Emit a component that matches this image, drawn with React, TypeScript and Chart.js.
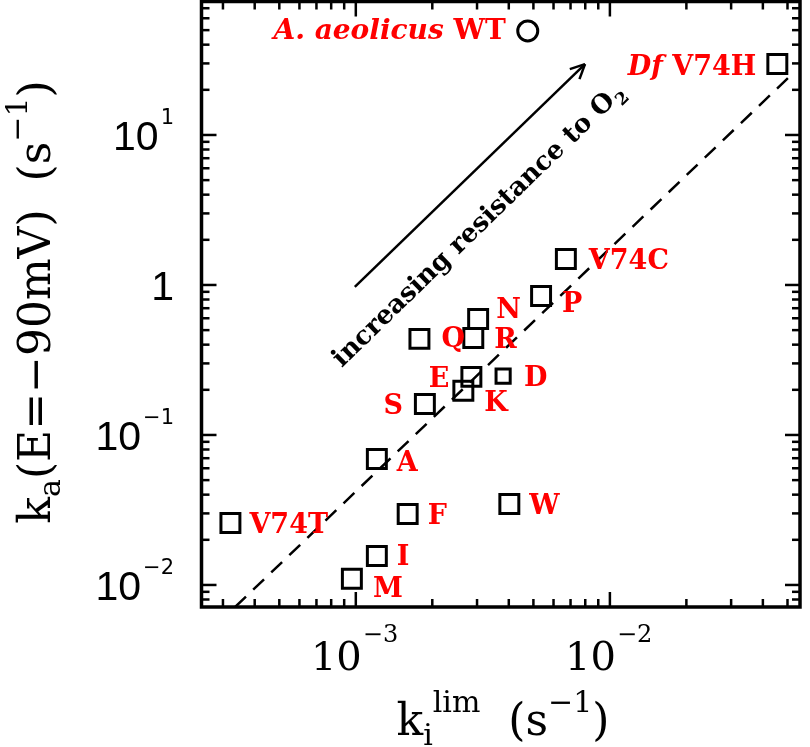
import React, { useEffect, useRef } from "react";
import { Chart, registerables } from "chart.js";

Chart.register(...registerables);

// ---------------- data ----------------
const mutantLabels = ["V74C", "P", "N", "R", "Q", "E", "D", "K", "S", "A", "V74T", "F", "W", "I", "M"];
const mutantKi = [6.71e-3, 5.36e-3, 3.03e-3, 2.9e-3, 1.78e-3, 2.85e-3, 3.8e-3, 2.65e-3, 1.87e-3, 1.21e-3, 3.21e-4, 1.6e-3, 4.02e-3, 1.21e-3, 0.965e-3];
const mutantKa = [1.49, 0.845, 0.593, 0.443, 0.437, 0.244, 0.247, 0.197, 0.161, 0.0692, 0.0259, 0.0297, 0.0347, 0.0156, 0.011];

const dfPrefix = "Df";
const dfLabel = "V74H";
const dfKi = [0.0456];
const dfKa = [29.7];

const wtSpecies = "A. aeolicus";
const wtLabel = "WT";
const wtKi = [4.75e-3];
const wtKa = [49.4];

const trendKi = [3.35e-4, 0.0508];
const trendKa = [7.13e-3, 24.4];

const xRange = [2.47e-4, 0.056];
const yRange = [7.13e-3, 77.6];

const xTickValues = [1e-3, 1e-2];
const xTickBases = ["10", "10"];
const xTickExps = ["\u22123", "\u22122"];

const yTickValues = [1e-2, 1e-1, 1, 10];
const yTickBases = ["10", "10", "1", "10"];
const yTickExps = ["\u22122", "\u22121", "", "1"];

const arrowKi = [0.991e-3, 7.98e-3];
const arrowKa = [0.97, 29.7];
const arrowText = "increasing resistance to O";
const arrowTextSub = "2";
const arrowTextKi = 0.881e-3;
const arrowTextKa = 0.28;

// ---------------- styles ----------------
const RED = "#ff0000";
const LABEL_FONT = 'bold 27px "DejaVu Serif"';
const labelOffsets: Record<string, [number, number, "left" | "right"]> = {
  V74C: [23, 0, "left"],
  P: [21, 6, "left"],
  N: [18, -11, "left"],
  R: [21, 0, "left"],
  Q: [22, -2, "left"],
  E: [-22, 0, "right"],
  D: [21, 0, "left"],
  K: [21, 10, "left"],
  S: [-22, 0, "right"],
  A: [20, 2, "left"],
  V74T: [19, 0, "left"],
  F: [20, 0, "left"],
  W: [20, 0, "left"],
  I: [20, -1, "left"],
  M: [21, 8, "left"],
};

type Run = { text: string; font: string; dy: number };

function runsWidth(ctx: CanvasRenderingContext2D, runs: Run[]) {
  let w = 0;
  for (const r of runs) {
    ctx.font = r.font;
    w += ctx.measureText(r.text).width;
  }
  return w;
}

function drawRuns(ctx: CanvasRenderingContext2D, runs: Run[], x: number, y: number) {
  let cx = x;
  ctx.textAlign = "left";
  ctx.textBaseline = "alphabetic";
  for (const r of runs) {
    ctx.font = r.font;
    ctx.fillText(r.text, cx, y + r.dy);
    cx += ctx.measureText(r.text).width;
  }
}

const decorPlugin = {
  id: "decor",
  afterDatasetsDraw(chart: any) {
    const { ctx, chartArea: a, scales } = chart;
    const xs = scales.x;
    const ys = scales.y;
    ctx.save();

    const line = (x0: number, y0: number, x1: number, y1: number) => {
      ctx.beginPath();
      ctx.moveTo(x0, y0);
      ctx.lineTo(x1, y1);
      ctx.stroke();
    };

    // inward tick marks on all four sides
    ctx.strokeStyle = "#000";
    ctx.lineWidth = 2.5;
    for (let d = -5; d <= 3; d++) {
      for (let m = 1; m <= 9; m++) {
        const v = m * Math.pow(10, d);
        const len = m === 1 ? 15 : 8;
        if (v >= xs.min && v <= xs.max) {
          const px = xs.getPixelForValue(v);
          line(px, a.bottom, px, a.bottom - len);
          line(px, a.top, px, a.top + len);
        }
        if (v >= ys.min && v <= ys.max) {
          const py = ys.getPixelForValue(v);
          line(a.left, py, a.left + len, py);
          line(a.right, py, a.right - len, py);
        }
      }
    }

    // frame
    ctx.lineWidth = 3.5;
    ctx.strokeRect(a.left, a.top, a.right - a.left, a.bottom - a.top);

    // x tick labels
    ctx.fillStyle = "#000";
    xTickValues.forEach((v, i) => {
      const px = xs.getPixelForValue(v);
      ctx.font = '40px "DejaVu Serif"';
      ctx.textAlign = "right";
      ctx.textBaseline = "alphabetic";
      ctx.fillText(xTickBases[i], px + 6, 670);
      ctx.font = '24px "DejaVu Serif"';
      ctx.textAlign = "left";
      ctx.fillText(xTickExps[i], px + 7, 642);
    });

    // y tick labels
    yTickValues.forEach((v, i) => {
      const py = ys.getPixelForValue(v);
      const right = 174;
      ctx.font = '21px "DejaVu Sans"';
      const ew = yTickExps[i] ? ctx.measureText(yTickExps[i]).width + 2 : 0;
      ctx.textBaseline = "alphabetic";
      ctx.textAlign = "right";
      ctx.font = '41px "Liberation Sans"';
      ctx.fillText(yTickBases[i], right - ew, py + 15);
      if (yTickExps[i]) {
        ctx.font = '21px "DejaVu Sans"';
        ctx.fillText(yTickExps[i], right, py - 11);
      }
    });

    // x axis title
    const big = '44px "DejaVu Serif"';
    const small = '30px "DejaVu Serif"';
    const xRuns: Run[] = [
      { text: "k", font: big, dy: 0 },
      { text: "i", font: small, dy: 10 },
      { text: "lim", font: small, dy: -23 },
      { text: "  ", font: big, dy: 0 },
      { text: "(s", font: big, dy: 0 },
      { text: "\u22121", font: small, dy: -23 },
      { text: ")", font: big, dy: 0 },
    ];
    const xw = runsWidth(ctx, xRuns);
    drawRuns(ctx, xRuns, 503 - xw / 2, 735);

    // y axis title
    const yRuns: Run[] = [
      { text: "k", font: big, dy: 0 },
      { text: "a", font: small, dy: 10 },
      { text: "(E=\u221290mV)  (s", font: big, dy: 0 },
      { text: "\u22121", font: small, dy: -23 },
      { text: ")", font: big, dy: 0 },
    ];
    const yw = runsWidth(ctx, yRuns);
    ctx.save();
    ctx.translate(50, 302);
    ctx.rotate(-Math.PI / 2);
    drawRuns(ctx, yRuns, -yw / 2, 0);
    ctx.restore();

    // arrow
    const ax0 = xs.getPixelForValue(arrowKi[0]);
    const ay0 = ys.getPixelForValue(arrowKa[0]);
    const ax1 = xs.getPixelForValue(arrowKi[1]);
    const ay1 = ys.getPixelForValue(arrowKa[1]);
    const ang = Math.atan2(ay1 - ay0, ax1 - ax0);
    ctx.lineWidth = 2.5;
    line(ax0, ay0, ax1, ay1);
    const hl = 16;
    const sp = 0.45;
    line(ax1, ay1, ax1 - hl * Math.cos(ang - sp), ay1 - hl * Math.sin(ang - sp));
    line(ax1, ay1, ax1 - hl * Math.cos(ang + sp), ay1 - hl * Math.sin(ang + sp));

    // arrow text
    ctx.save();
    ctx.translate(xs.getPixelForValue(arrowTextKi), ys.getPixelForValue(arrowTextKa));
    ctx.rotate(ang);
    ctx.fillStyle = "#000";
    ctx.font = 'bold 26px "DejaVu Serif"';
    ctx.textAlign = "left";
    ctx.textBaseline = "alphabetic";
    ctx.fillText(arrowText, 0, 0);
    const tw = ctx.measureText(arrowText).width;
    ctx.font = 'bold 17px "DejaVu Serif"';
    ctx.fillText(arrowTextSub, tw + 1, 7);
    ctx.restore();

    // point labels
    ctx.fillStyle = RED;
    ctx.textBaseline = "alphabetic";
    ctx.font = LABEL_FONT;
    mutantLabels.forEach((lab, i) => {
      const px = xs.getPixelForValue(mutantKi[i]);
      const py = ys.getPixelForValue(mutantKa[i]);
      const off = labelOffsets[lab] || [20, 0, "left"];
      ctx.textAlign = off[2];
      ctx.fillText(lab, px + off[0], py + off[1] + 10);
    });

    // Df V74H
    {
      const px = xs.getPixelForValue(dfKi[0]);
      const py = ys.getPixelForValue(dfKa[0]);
      ctx.font = LABEL_FONT;
      ctx.textAlign = "right";
      const right = px - 21;
      ctx.fillText(dfLabel, right, py + 11);
      const w = ctx.measureText(" " + dfLabel).width;
      ctx.font = 'bold italic 27px "DejaVu Serif"';
      ctx.fillText(dfPrefix, right - w, py + 11);
    }

    // A. aeolicus WT
    {
      const px = xs.getPixelForValue(wtKi[0]);
      const py = ys.getPixelForValue(wtKa[0]);
      ctx.font = 'bold 28px "DejaVu Serif"';
      ctx.textAlign = "right";
      const right = px - 22;
      ctx.fillText(wtLabel, right, py + 8.5);
      const w = ctx.measureText(" " + wtLabel).width;
      ctx.font = 'bold italic 28px "DejaVu Serif"';
      ctx.fillText(wtSpecies, right - w, py + 8.5);
    }

    ctx.restore();
  },
};

export default function App() {
  const ref = useRef<HTMLCanvasElement | null>(null);

  useEffect(() => {
    if (!ref.current) return;
    const chart = new Chart(ref.current, {
      type: "scatter",
      data: {
        datasets: [
          {
            label: "trend",
            data: trendKi.map((x, i) => ({ x, y: trendKa[i] })),
            showLine: true,
            borderColor: "#000",
            borderWidth: 2.5,
            borderDash: [15, 10],
            pointRadius: 0,
            fill: false,
          },
          {
            label: "mutants",
            data: mutantKi.map((x, i) => ({ x, y: mutantKa[i] })),
            pointStyle: "rect",
            pointRadius: (c: any) => (mutantLabels[c.dataIndex] === "D" ? 10 : 13.4),
            borderColor: "#000",
            borderWidth: 3,
            backgroundColor: "rgba(0,0,0,0)",
          },
          {
            label: dfLabel,
            data: dfKi.map((x, i) => ({ x, y: dfKa[i] })),
            pointStyle: "rect",
            pointRadius: 13.4,
            borderColor: "#000",
            borderWidth: 3,
            backgroundColor: "rgba(0,0,0,0)",
          },
          {
            label: wtLabel,
            data: wtKi.map((x, i) => ({ x, y: wtKa[i] })),
            pointStyle: "circle",
            pointRadius: 10,
            borderColor: "#000",
            borderWidth: 3,
            backgroundColor: "rgba(0,0,0,0)",
          },
        ],
      } as any,
      options: {
        responsive: false,
        animation: false,
        devicePixelRatio: 1,
        layout: { autoPadding: false, padding: { left: 201.5, right: 10, top: 1.5, bottom: 140 } },
        plugins: { legend: { display: false }, tooltip: { enabled: false } },
        scales: {
          x: { type: "logarithmic", min: xRange[0], max: xRange[1], display: false },
          y: { type: "logarithmic", min: yRange[0], max: yRange[1], display: false },
        },
      } as any,
      plugins: [decorPlugin],
    });
    return () => chart.destroy();
  }, []);

  return (
    <div style={{ position: "absolute", left: 0, top: 0, width: 810, height: 747, background: "#fff" }}>
      <canvas ref={ref} width={810} height={747} style={{ display: "block" }} />
    </div>
  );
}
